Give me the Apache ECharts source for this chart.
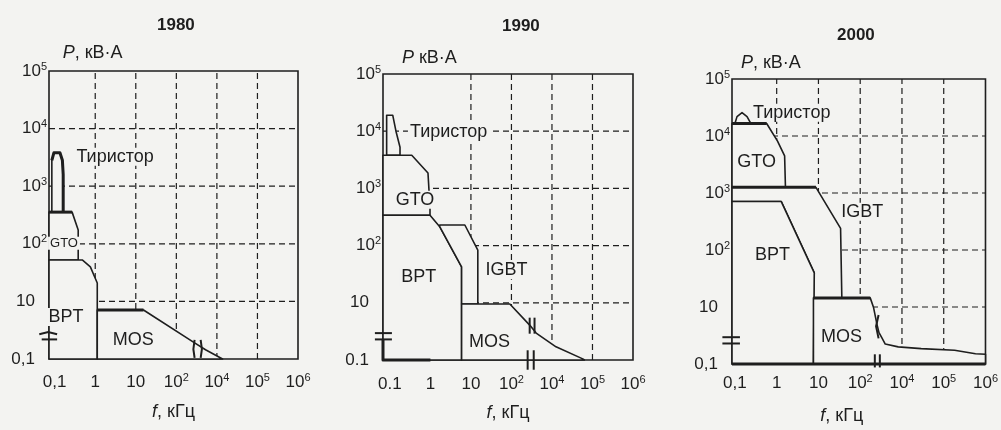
<!DOCTYPE html>
<html>
<head>
<meta charset="utf-8">
<script src="https://cdn.jsdelivr.net/npm/echarts@6/dist/echarts.min.js"></script>
<style>
html,body{margin:0;padding:0;background:#f3f3f1;}
#c{width:1001px;height:430px;}
</style>
</head>
<body>
<div id="c"></div>
<script>
// ---------- data ----------
const years = ['1980', '1990', '2000'];

const xTicks80 = ['0,1', '1', '10', '10^2', '10^4', '10^5', '10^6'];
const xTicks90 = ['0.1', '1', '10', '10^2', '10^4', '10^5', '10^6'];
const xTicks00 = ['0,1', '1', '10', '10^2', '10^4', '10^5', '10^6'];
const yTicks80 = ['0,1', '10', '10^2', '10^3', '10^4', '10^5'];
const yTicks90 = ['0.1', '10', '10^2', '10^3', '10^4', '10^5'];
const yTicks00 = ['0,1', '10', '10^2', '10^3', '10^4', '10^5'];

const yNames = ['P, кВ·А', 'P кВ·А', 'P, кВ·А'];
const xName = 'f, кГц';

// gridline positions (axis index units)
const gridX80 = [1, 2, 3, 4, 5], gridY80 = [1, 2, 3, 4];
const gridX90 = [2, 3, 4, 5],    gridY90 = [1, 2, 3, 4];
const gridX00 = [1, 2, 3, 4, 5], gridY00 = [1, 2, 3, 4];

// 1980 regions (x: decade index, y: decade index)
const thyr80 = [[-0.07, 2.55], [-0.07, 3.45], [-0.02, 3.58], [0.13, 3.58], [0.19, 3.45], [0.21, 3.2], [0.21, 2.55]];
const gto80  = [[-0.14, 1.72], [-0.14, 2.55], [0.43, 2.55], [0.58, 2.24], [0.58, 1.72]];
const bpt80  = [[-0.14, 0], [-0.14, 1.72], [0.68, 1.72], [0.88, 1.6], [1.05, 1.32], [1.05, 0]];
const mos80  = [[1.05, 0], [1.05, 0.85], [2.19, 0.85], [3.45, 0.28], [3.72, 0.16], [4.14, 0]];
const labels80 = [['Тиристор', 1.49, 3.51], ['GTO', 0.23, 2.01], ['BPT', 0.28, 0.73], ['MOS', 1.94, 0.33]];

// 1990 regions
const thyr90 = [[-0.08, 3.58], [-0.08, 4.28], [0.07, 4.28], [0.15, 4.0], [0.25, 3.72], [0.25, 3.58]];
const gto90  = [[-0.17, 2.53], [-0.17, 3.58], [0.54, 3.58], [0.94, 3.27], [0.99, 2.67], [0.99, 2.53]];
const bpt90  = [[-0.17, 0], [-0.17, 2.53], [0.99, 2.53], [1.23, 2.33], [1.77, 1.63], [1.77, 0]];
const igbt90 = [[1.77, 0.98], [1.77, 1.63], [1.23, 2.33], [1.23, 2.36], [1.85, 2.36], [2.17, 1.92], [2.17, 0.98]];
const mos90  = [[1.77, 0], [1.77, 0.98], [2.96, 0.98], [3.45, 0.61], [3.61, 0.47], [4.1, 0.23], [4.76, 0.02], [4.8, 0]];
const labels90 = [['Тиристор', 1.45, 3.99], ['GTO', 0.62, 2.8], ['BPT', 0.71, 1.45], ['IGBT', 2.88, 1.57], ['MOS', 2.46, 0.31]];

// 2000 regions
const thyr00 = [[0.0, 4.22], [0.05, 4.34], [0.17, 4.41], [0.29, 4.34], [0.38, 4.22]];
const gto00  = [[-0.07, 3.1], [-0.07, 4.22], [0.76, 4.22], [1.02, 3.91], [1.19, 3.65], [1.21, 3.1]];
const igbt00 = [[-0.07, 2.85], [-0.07, 3.1], [1.94, 3.1], [2.53, 2.38], [2.56, 1.16], [1.88, 1.16], [1.9, 1.6], [1.11, 2.85]];
const bpt00  = [[-0.07, 0], [-0.07, 2.85], [1.11, 2.85], [1.9, 1.6], [1.88, 0]];
const mos00  = [[1.88, 0], [1.88, 1.16], [3.24, 1.16], [3.32, 0.99], [3.4, 0.7], [3.45, 0.55], [3.51, 0.47], [3.6, 0.35],
                [3.91, 0.3], [4.46, 0.27], [5.26, 0.24], [5.76, 0.18], [6, 0.17], [6, 0]];
const labels00 = [['Тиристор', 1.36, 4.41], ['GTO', 0.52, 3.54], ['IGBT', 3.05, 2.67], ['BPT', 0.9, 1.91], ['MOS', 2.55, 0.47]];

// heavier outline segments
const thick80 = [thyr80.slice(1), [[-0.14, 2.55], [0.43, 2.55]], [[1.05, 0.85], [2.19, 0.85]]];
const thick90 = [[[-0.17, 0.35], [-0.17, 0], [1.0, 0]]];
const thick00 = [[[-0.07, 4.22], [0.76, 4.22]], [[-0.07, 3.1], [1.94, 3.1]], [[1.88, 1.16], [3.24, 1.16]], [[-0.07, 0], [6, 0]]];

// axis-break marks
const brk80 = [[[-0.38, 0.43], [-0.16, 0.47], [0.06, 0.43]], [[-0.32, 0.34], [0.06, 0.34]],
               [[3.45, 0.33], [3.42, 0.17], [3.45, 0.02]], [[3.6, 0.33], [3.63, 0.17], [3.6, 0.02]]];
const brk90 = [[[-0.37, 0.47], [0.05, 0.47]], [[-0.37, 0.36], [0.05, 0.36]],
               [[3.45, 0.74], [3.45, 0.46]], [[3.57, 0.74], [3.57, 0.46]],
               [[3.4, 0.17], [3.4, -0.17]], [[3.55, 0.17], [3.55, -0.17]]];
const brk00 = [[[-0.3, 0.47], [0.12, 0.47]], [[-0.3, 0.36], [0.12, 0.36]],
               [[3.44, 0.86], [3.38, 0.66], [3.44, 0.45]],
               [[3.35, 0.17], [3.35, -0.06]], [[3.47, 0.17], [3.47, -0.06]]];

// ---------- layout / style ----------
const BG = '#f3f3f1', INK = '#1e1e1e';
const FONT = '"Liberation Sans", Arial, sans-serif';
const panels = [
  {xTicks: xTicks80, yTicks: yTicks80, gx: gridX80, gy: gridY80, regions: [thyr80, gto80, bpt80, mos80], labels: labels80, thick: thick80, brk: brk80,
   grid: {left: 49, top: 71, width: 249, height: 288}, xMin: -0.14, xMargin: 13, xGap: 44, xPad: [0, 0, 0, 0], yPad: [0, 0, 0, 8], yGap: 9, title: [152, 12]},
  {xTicks: xTicks90, yTicks: yTicks90, gx: gridX90, gy: gridY90, regions: [thyr90, gto90, bpt90, igbt90, mos90], labels: labels90, thick: thick90, brk: brk90,
   grid: {left: 383, top: 74, width: 250, height: 286}, xMin: -0.17, xMargin: 14, xGap: 44, xPad: [0, 0, 0, 0], yPad: [0, 0, 0, 12], yGap: 7, title: [497, 13]},
  {xTicks: xTicks00, yTicks: yTicks00, gx: gridX00, gy: gridY00, regions: [thyr00, gto00, igbt00, bpt00, mos00], labels: labels00, thick: thick00, brk: brk00,
   grid: {left: 732, top: 79, width: 255, height: 288}, xMin: -0.07, xMargin: 9, xGap: 43, xPad: [0, 34, 0, 0], yPad: [0, 0, 0, 6], yGap: 7, title: [832, 22]}
];

function fmt(s) {
  const parts = s.split('^');
  return parts.length > 1 ? '{b|' + parts[0] + '}{s|' + parts[1] + '}' : '{p|' + s + '}';
}
function tickRich(plainPad) {
  return {
    b: {fontSize: 17, fontFamily: FONT, color: INK, lineHeight: 20},
    s: {fontSize: 11, fontFamily: FONT, color: INK, lineHeight: 12, verticalAlign: 'top'},
    p: {fontSize: 17, fontFamily: FONT, color: INK, lineHeight: 20, padding: plainPad}
  };
}
function nameRich() {
  return {
    i: {fontSize: 18, fontFamily: FONT, fontStyle: 'italic', color: INK},
    n: {fontSize: 18, fontFamily: FONT, color: INK}
  };
}
function nameFmt(s) {
  return '{i|' + s.charAt(0) + '}{n|' + s.slice(1) + '}';
}

const grids = [], xAxes = [], yAxes = [], series = [], titles = [];

panels.forEach((P, i) => {
  grids.push(Object.assign({show: true, borderColor: INK, borderWidth: 1.6, backgroundColor: 'transparent'}, P.grid));
  titles.push({text: years[i], left: P.title[0], top: P.title[1],
    textStyle: {fontSize: 17, fontWeight: 'bold', fontFamily: FONT, color: INK}});
  xAxes.push({
    type: 'value', gridIndex: i, min: P.xMin, max: 6,
    axisLine: {show: false}, axisTick: {show: false}, splitLine: {show: false},
    axisLabel: {customValues: [0, 1, 2, 3, 4, 5, 6], margin: P.xMargin,
      formatter: v => fmt(P.xTicks[Math.round(v)]), rich: tickRich([0, 0, 0, 0])},
    name: nameFmt(xName), nameLocation: 'middle', nameGap: P.xGap,
    nameTextStyle: {rich: nameRich(), padding: P.xPad}
  });
  yAxes.push({
    type: 'value', gridIndex: i, min: 0, max: 5, interval: 1,
    axisLine: {show: false}, axisTick: {show: false}, splitLine: {show: false},
    axisLabel: {margin: 2, formatter: v => fmt(P.yTicks[Math.round(v)]), rich: tickRich([0, 12, 0, 0])},
    name: nameFmt(yNames[i]), nameLocation: 'end', nameGap: P.yGap,
    nameTextStyle: {align: 'left', padding: P.yPad, rich: nameRich()}
  });

  // dashed gridlines
  series.push({
    type: 'custom', xAxisIndex: i, yAxisIndex: i, z: 1, silent: true,
    data: P.gx.map(v => [v, 2.5]),
    renderItem: (params, api) => {
      const v = api.value(0);
      const a = api.coord([v, 0]), b = api.coord([v, 5]);
      return {type: 'line', shape: {x1: a[0], y1: a[1], x2: b[0], y2: b[1]},
        style: {stroke: INK, lineWidth: 1.2, lineDash: [6, 4]}};
    }
  });
  series.push({
    type: 'custom', xAxisIndex: i, yAxisIndex: i, z: 1, silent: true,
    data: P.gy.map(v => [3, v]),
    renderItem: (params, api) => {
      const v = api.value(1);
      const a = api.coord([P.xMin, v]), b = api.coord([6, v]);
      return {type: 'line', shape: {x1: a[0], y1: a[1], x2: b[0], y2: b[1]},
        style: {stroke: INK, lineWidth: 1.2, lineDash: [6, 4]}};
    }
  });
  // region polygons
  series.push({
    type: 'custom', xAxisIndex: i, yAxisIndex: i, z: 2, silent: true, clip: false,
    data: P.regions.map(r => r[0]),
    renderItem: (params, api) => ({
      type: 'polygon',
      shape: {points: P.regions[params.dataIndex].map(p => api.coord(p))},
      style: {fill: BG, stroke: INK, lineWidth: 1.6, lineJoin: 'round'}
    })
  });
  // heavier segments
  series.push({
    type: 'custom', xAxisIndex: i, yAxisIndex: i, z: 3, silent: true, clip: false,
    data: P.thick.map(r => r[0]),
    renderItem: (params, api) => ({
      type: 'polyline',
      shape: {points: P.thick[params.dataIndex].map(p => api.coord(p))},
      style: {fill: 'none', stroke: INK, lineWidth: 3, lineJoin: 'round'}
    })
  });
  // break marks
  series.push({
    type: 'custom', xAxisIndex: i, yAxisIndex: i, z: 4, silent: true, clip: false,
    data: P.brk.map(r => r[0]),
    renderItem: (params, api) => ({
      type: 'polyline',
      shape: {points: P.brk[params.dataIndex].map(p => api.coord(p))},
      style: {fill: 'none', stroke: INK, lineWidth: 2}
    })
  });
  // region labels
  series.push({
    type: 'custom', xAxisIndex: i, yAxisIndex: i, z: 5, silent: true, clip: false,
    data: P.labels.map(l => [l[1], l[2]]),
    renderItem: (params, api) => {
      const name = P.labels[params.dataIndex][0];
      const pt = api.coord([api.value(0), api.value(1)]);
      const size = (i === 0 && name === 'GTO') ? 13 : 18;
      return {
        type: 'text', x: pt[0], y: pt[1],
        style: {text: name, fill: INK, font: size + 'px ' + FONT, align: 'center', verticalAlign: 'middle',
          backgroundColor: BG, padding: [0, 2]}
      };
    }
  });
});

const chart = echarts.init(document.getElementById('c'), null, {renderer: 'canvas'});
chart.setOption({
  backgroundColor: BG,
  animation: false,
  title: titles,
  grid: grids,
  xAxis: xAxes,
  yAxis: yAxes,
  series: series
});
</script>
</body>
</html>
